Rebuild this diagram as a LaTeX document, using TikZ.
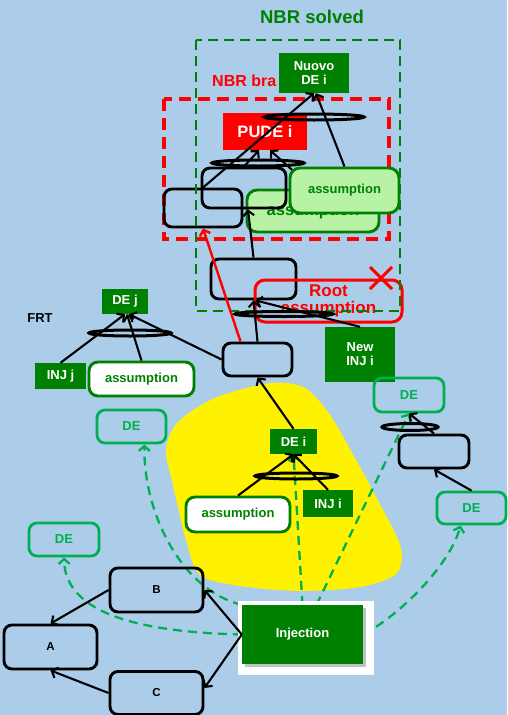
\documentclass[tikz,border=0pt]{standalone}
\usepackage{fontspec}
\setmainfont{Liberation Sans}
\usetikzlibrary{arrows.meta,calc,shadows}
\definecolor{bgblue}{RGB}{171,205,234}
\definecolor{dkg}{RGB}{0,128,0}
\definecolor{deg}{RGB}{0,176,80}
\definecolor{lgr}{RGB}{184,242,166}
\pgfdeclarelayer{bg}
\pgfsetlayers{bg,main}
\tikzset{
 f13/.style={font=\bfseries\fontsize{13}{14}\selectfont},
 blk/.style={draw=black,line width=2.9pt,rounded corners=8pt,inner sep=0pt},
 gbox/.style={fill=dkg,text=white,inner sep=0pt,align=center,f13},
 debox/.style={draw=deg,line width=2.8pt,rounded corners=8pt,text=deg,inner sep=0pt,f13},
 wass/.style={draw=dkg,fill=white,line width=2.9pt,rounded corners=9pt,text=dkg,inner sep=0pt,f13},
 lass/.style={draw=dkg,fill=lgr,line width=2.9pt,rounded corners=10pt,text=dkg,inner sep=0pt},
 arr/.style={draw=black,line width=2.1pt,-{Straight Barb[length=5pt,width=11pt,line width=2.1pt]}},
 garr/.style={draw=deg,line width=2.3pt,dash pattern=on 9pt off 6pt,-{Straight Barb[length=5pt,width=11pt]}},
 ell/.style={draw=black,line width=3pt},
}
\begin{document}
\begin{tikzpicture}[x=1pt,y=-1pt]
\useasboundingbox (0,0) rectangle (507,715);

% titles
\node[text=dkg,inner sep=0pt,font=\bfseries\fontsize{18.5}{20}\selectfont] (tsolved) at (312,17) {NBR solved};
\node[text=red,anchor=west,inner sep=0pt,font=\bfseries\fontsize{16}{18}\selectfont] (tbranch) at (212,81) {NBR bra};
\node[inner sep=0pt,font=\bfseries\fontsize{13}{14}\selectfont] (tfrt) at (40,318) {FRT};

% red dashed frame
\draw[red,line width=3.8pt,dash pattern=on 12pt off 7pt] (164,99) rectangle (389,239);

% top nodes
\node[gbox,minimum width=70pt,minimum height=40pt,font=\bfseries\fontsize{13}{13.5}\selectfont] (nuovo) at (314,73) {Nuovo\\DE i};
\node[fill=red,text=white,inner sep=0pt,minimum width=84pt,minimum height=37pt,font=\bfseries\fontsize{16.5}{18}\selectfont] (pude) at (265,131.5) {PUDE i};
\node[lass,minimum width=132pt,minimum height=42pt,font=\bfseries\fontsize{16.5}{18}\selectfont] (assumB) at (313,211) {assumption};
\draw[arr] (assumB.north) -- ($(pude.south)+(5,0)$);
\node[lass,minimum width=109pt,minimum height=45pt,f13] (assumF) at (344.5,190.5) {assumption};
\node[blk,minimum width=84pt,minimum height=40pt] (box1) at (244,188) {};
\node[blk,minimum width=78pt,minimum height=38pt] (box2) at (203,208) {};
\node[blk,minimum width=85pt,minimum height=40pt] (box3) at (253.5,279) {};
\node[draw=red,line width=3pt,rounded corners=10pt,text=red,inner sep=0pt,align=center,minimum width=147pt,minimum height=42pt,font=\bfseries\fontsize{17}{17}\selectfont] (root) at (328.5,301) {Root\\assumption};
\draw[red,line width=3pt] (370,267) -- (392,289) (370,289) -- (392,267);

% green dashed frame
\draw[dkg,line width=2.8pt,dash pattern=on 10pt off 6pt] (196,40) rectangle (400,311);

\node[gbox,minimum width=70pt,minimum height=55pt,font=\bfseries\fontsize{13}{14}\selectfont] (newinj) at (360,354.5) {New\\INJ i};
\node[blk,minimum width=69pt,minimum height=33pt] (box4) at (257.5,359.5) {};
\node[gbox,minimum width=46pt,minimum height=25pt] (dej) at (125,301.5) {DE j};
\node[gbox,minimum width=51pt,minimum height=26pt] (injj) at (60.5,376) {INJ j};
\node[wass,minimum width=105pt,minimum height=34pt] (assumJ) at (141.5,379) {assumption};
\node[debox,minimum width=69pt,minimum height=33pt] (deA) at (131.5,426.5) {DE};
\node[debox,minimum width=70pt,minimum height=34pt] (deB) at (409,395) {DE};
\node[blk,minimum width=70pt,minimum height=33pt] (box5) at (434,451.5) {};
\node[debox,minimum width=69pt,minimum height=32pt] (deC) at (471.5,508) {DE};
\node[gbox,minimum width=47pt,minimum height=25pt] (dei) at (293.5,441.5) {DE i};
\node[wass,minimum width=104pt,minimum height=35pt] (assumI) at (238,514.5) {assumption};
\node[gbox,minimum width=50pt,minimum height=27pt] (inji) at (328,503.5) {INJ i};
\node[debox,minimum width=70pt,minimum height=33pt] (deD) at (64,539.5) {DE};
\node[blk,minimum width=93pt,minimum height=44pt,font=\bfseries\fontsize{11.5}{12}\selectfont] (nB) at (156.5,590) {B};
\node[blk,minimum width=93pt,minimum height=44pt,font=\bfseries\fontsize{11.5}{12}\selectfont] (nA) at (50.5,647) {A};
\node[blk,minimum width=93pt,minimum height=43pt,font=\bfseries\fontsize{11.5}{12}\selectfont] (nC) at (156.5,693) {C};
\node[gbox,minimum width=121pt,minimum height=59pt,drop shadow={shadow xshift=3pt,shadow yshift=-3pt,opacity=0.4,fill=black!60}] (inj) at (302.5,634.5) {Injection};

% ellipses
\draw[ell] (314,117) ellipse [x radius=50pt,y radius=3pt];
\draw[ell] (258,163) ellipse [x radius=46pt,y radius=3pt];
\draw[ell] (284,314) ellipse [x radius=49pt,y radius=2.5pt];
\draw[ell] (130,333) ellipse [x radius=41pt,y radius=3pt];
\draw[ell] (296,476) ellipse [x radius=41pt,y radius=3pt];
\draw[ell] (410,427) ellipse [x radius=28pt,y radius=3.5pt];

% connectors
\draw[arr] (box2.north) -- (nuovo.south);
\draw[arr] (assumF.north) -- ($(nuovo.south)+(2,0)$);
\draw[arr] (box1.north) -- ($(pude.south)+(-6,0)$);
\draw[arr] (box3.north) -- ($(box1.south)+(4,0)$);
\draw[arr] (box4.north) -- (box3.south);
\draw[arr] (newinj.north) -- ($(box3.south)+(2,0)$);
\draw[red,line width=2.4pt,-{Straight Barb[length=5pt,width=11pt]}] ($(box4.north)+(-17,0)$) -- (box2.south);
\draw[arr] (box4.west) -- ($(dej.south)+(4,0)$);
\draw[arr] (injj.north) -- (dej.south);
\draw[arr] (assumJ.north) -- ($(dej.south)+(2,0)$);
\draw[arr] (dei.north) -- (box4.south);
\draw[arr] (assumI.north) -- (dei.south);
\draw[arr] (inji.north) -- (dei.south);
\draw[arr] (box5.north) -- (deB.south);
\draw[arr] (deC.north) -- (box5.south);
\draw[arr] (inj.west) -- (nB.east);
\draw[arr] (inj.west) -- ($(nC.east)+(0,-5)$);
\draw[arr] (nB.west) -- (nA.north);
\draw[arr] (nC.west) -- (nA.south);

\begin{pgfonlayer}{bg}
\fill[bgblue] (0,0) rectangle (507,715);
\fill[yellow] plot[smooth cycle] coordinates {(270,383) (305,388) (330,415) (355,458) (382,508) (401,548) (396,574) (360,587) (300,591) (240,586) (200,575) (186,540) (173,485) (166,450) (178,422) (215,398)};
\draw[garr] (inj.north west) .. controls (180,590) and (143,510) .. ($(deA.south)+(13,0)$);
\draw[garr] (inj.west) .. controls (130,632) and (65,610) .. (deD.south);
\draw[garr] (inj.north) -- (dei.south);
\draw[garr] ($(inj.north)+(14,0)$) -- (deB.south);
\draw[garr] (inj.east) .. controls (400,615) and (450,565) .. ($(deC.south)+(-11,0)$);
\fill[white] (238,601) rectangle (374,675);
\end{pgfonlayer}
\end{tikzpicture}
\end{document}
